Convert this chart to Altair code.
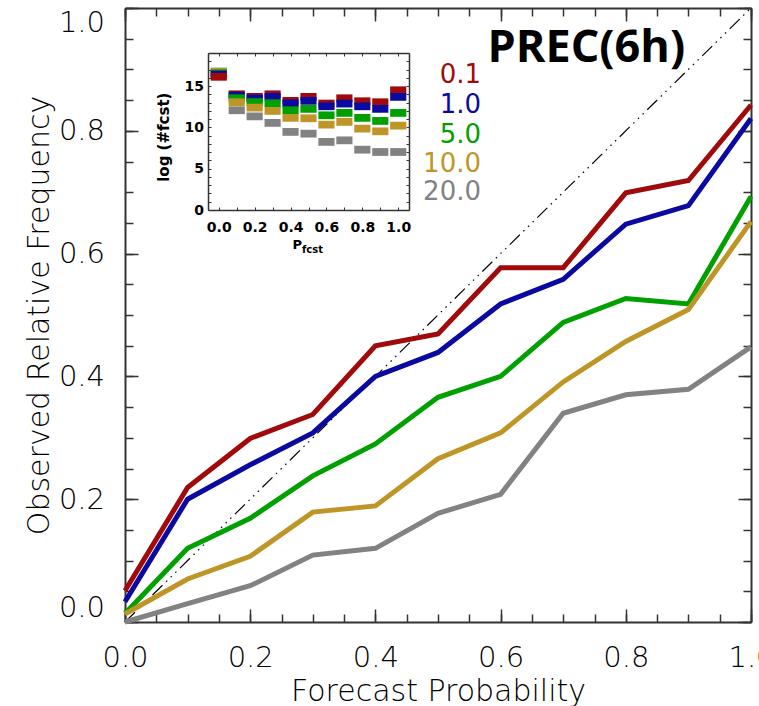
import altair as alt
import pandas as pd

# ---------------- data ----------------
probs = [0.0, 0.1, 0.2, 0.3, 0.4, 0.5, 0.6, 0.7, 0.8, 0.9, 1.0]
thresholds = ["0.1", "1.0", "5.0", "10.0", "20.0"]
colors = ["#A00A0A", "#0A0AA0", "#00A000", "#BE9628", "#828282"]

# observed relative frequency per threshold (reliability curves)
obs_01 = [0.051, 0.219, 0.299, 0.338, 0.450, 0.469, 0.577, 0.577, 0.699, 0.719, 0.842]
obs_1 = [0.033, 0.200, 0.256, 0.308, 0.400, 0.439, 0.518, 0.558, 0.648, 0.678, 0.820]
obs_5 = [0.014, 0.120, 0.169, 0.238, 0.290, 0.366, 0.400, 0.488, 0.527, 0.518, 0.693]
obs_10 = [0.013, 0.070, 0.107, 0.179, 0.189, 0.266, 0.308, 0.391, 0.457, 0.509, 0.652]
obs_20 = [0.000, 0.030, 0.059, 0.109, 0.120, 0.177, 0.208, 0.340, 0.370, 0.379, 0.448]

# inset: log(number of forecasts) per probability bin
logn_01 = [16.12, 14.00, 13.69, 14.00, 13.21, 13.69, 12.88, 13.52, 13.16, 13.04, 14.49]
logn_1 = [16.39, 13.85, 13.52, 13.69, 12.92, 13.21, 12.55, 12.88, 12.55, 12.24, 13.69]
logn_5 = [16.55, 13.52, 13.04, 12.92, 12.07, 12.24, 11.46, 11.75, 11.15, 10.78, 11.75]
logn_10 = [16.72, 13.04, 12.39, 11.99, 11.15, 11.10, 10.33, 10.66, 9.85, 9.52, 10.21]
logn_20 = [16.76, 12.07, 11.34, 10.54, 9.45, 9.24, 8.24, 8.43, 7.30, 7.02, 7.02]

main_title = "PREC(6h)"
x_title = "Forecast Probability"
y_title = "Observed Relative Frequency"
inset_x_title = "P"
inset_x_sub = "fcst"
inset_y_title = "log (#fcst)"

major_ticks = [0.0, 0.2, 0.4, 0.6, 0.8, 1.0]
minor_ticks = [round(i * 0.05, 2) for i in range(21)]
inset_x_ticks = [round(i * 0.1, 1) for i in range(11)]
inset_y_ticks = list(range(0, 20))

# ---------------- layout / style ----------------
W, H = 626, 614
PAD = {"left": 125, "top": 8, "right": 8, "bottom": 84}
IL, IR, IT, IB = 83, 284, 45, 202          # inset box inside the plot area (px)
FONT = "DejaVu Sans"
LIGHT = 200
INK = "#000000"
AX = "#333333"
BAR_HALF_W, BAR_HALF_H = 0.045, 0.47

obs = [obs_01, obs_1, obs_5, obs_10, obs_20]
logs = [logn_01, logn_1, logn_5, logn_10, logn_20]

lines_df = pd.DataFrame(
    [{"thr": t, "p": p, "v": v} for t, vals in zip(thresholds, obs) for p, v in zip(probs, vals)]
)
bars_df = pd.DataFrame(
    [{"thr": t, "p": p, "n": n} for t, vals in zip(thresholds, logs) for p, n in zip(probs, vals)]
).sort_values("n", ascending=False, kind="stable")
diag_df = pd.DataFrame({"p": [0.0, 1.0], "v": [0.0, 1.0]})

legend_y = [0.8779, 0.8298, 0.7809, 0.7329, 0.6865]
legend_df = pd.DataFrame({"thr": thresholds, "lx": [0.5687] * 5, "ly": legend_y})
title_df = pd.DataFrame({"txt": [main_title], "tx": [0.737], "ty": [0.912]})
sub_df = pd.DataFrame({"txt": [inset_x_sub], "sx": [0.522], "sy": [-5.25]})

MX = alt.Scale(domain=[0, 1], nice=False, zero=False)
MY = alt.Scale(domain=[0, 1], nice=False, zero=False)
IX = alt.Scale(domain=[-0.06, 1.06], range=[IL, IR], nice=False, zero=False)
IY = alt.Scale(domain=[0, 19], range=[IB, IT], nice=False, zero=False)
CS = alt.Scale(domain=thresholds, range=colors)


def tick_axis(orient, values, length, domain=False, width=1.5, dwidth=2, **extra):
    kw = dict(orient=orient, values=values, tickSize=alt.ExprRef(expr=str(-length)),
              tickColor=AX, tickWidth=width, labels=False, grid=False, domain=domain,
              title=None)
    if domain:
        kw.update(domainColor=AX, domainWidth=dwidth)
    kw.update(extra)
    return alt.Axis(**kw)


# main lines + labelled axes (bottom / left, major ticks)
x_lab = tick_axis("bottom", major_ticks, 13, domain=True, labels=True, format=".1f",
                  labelFont=FONT, labelFontSize=29, labelFontWeight=LIGHT, labelColor=INK,
                  labelPadding=34, labelFlush=False, labelOverlap=False, labelBound=False,
                  title=x_title, titleFont=FONT, titleFontSize=30, titleFontWeight=LIGHT,
                  titleColor=INK, titleX=313, titleY=78, titleBaseline="alphabetic",
                  titleAlign="center")
y_lab = tick_axis("left", major_ticks, 13, domain=True, labels=True, format=".1f",
                  labelFont=FONT, labelFontSize=29, labelFontWeight=LIGHT, labelColor=INK,
                  labelPadding=33.5, labelFlush=True, labelOverlap=False, labelBound=False,
                  title=y_title, titleFont=FONT, titleFontSize=30, titleFontWeight=LIGHT,
                  titleColor=INK, titleX=-77, titleY=307, titleAngle=270,
                  titleBaseline="alphabetic", titleAlign="center")

lines = alt.Chart(lines_df).mark_line(strokeWidth=5).encode(
    x=alt.X("p:Q", scale=MX, axis=x_lab),
    y=alt.Y("v:Q", scale=MY, axis=y_lab),
    color=alt.Color("thr:N", scale=CS, legend=None, sort=thresholds),
)

diag = alt.Chart(diag_df).mark_line(
    color="black", strokeWidth=1.2, strokeDash=[14, 5, 1.5, 5, 1.5, 5, 1.5, 5]
).encode(
    x=alt.X("p:Q", scale=MX, axis=tick_axis("bottom", minor_ticks, 8)),
    y=alt.Y("v:Q", scale=MY, axis=tick_axis("left", minor_ticks, 8)),
)

legend_txt = alt.Chart(legend_df).mark_text(
    font=FONT, fontSize=26, align="right", baseline="alphabetic"
).encode(
    x=alt.X("lx:Q", scale=MX, axis=tick_axis("top", major_ticks, 13, domain=True)),
    y=alt.Y("ly:Q", scale=MY, axis=tick_axis("right", major_ticks, 13, domain=True)),
    text="thr:N",
    color=alt.Color("thr:N", scale=CS, legend=None),
)

title_txt = alt.Chart(title_df).mark_text(
    font="Open Sans", fontSize=45, fontWeight="bold", align="center",
    baseline="alphabetic", color="black"
).encode(
    x=alt.X("tx:Q", scale=MX, axis=tick_axis("top", minor_ticks, 8)),
    y=alt.Y("ty:Q", scale=MY, axis=tick_axis("right", minor_ticks, 8)),
    text="txt:N",
)

# inset
ix_axis = tick_axis("bottom", inset_x_ticks, 3, domain=True, width=1, dwidth=1.5,
                    offset=IB - H, labels=True,
                    labelExpr="abs(datum.value*5 - round(datum.value*5)) < 0.001 ? format(datum.value, '.1f') : ''",
                    labelFont=FONT, labelFontSize=14, labelFontWeight="bold", labelColor=INK,
                    labelPadding=13.7, labelFlush=False, labelOverlap=False, labelBound=False,
                    title=inset_x_title, titleFont=FONT, titleFontSize=13, titleFontWeight="bold",
                    titleColor=INK, titleX=171.7, titleY=38.3, titleBaseline="alphabetic",
                    titleAlign="center")
iy_axis = tick_axis("left", inset_y_ticks, 3, domain=True, width=1, dwidth=1.5,
                    offset=-IL, labels=True,
                    labelExpr="datum.value % 5 == 0 ? datum.label : ''",
                    labelFont=FONT, labelFontSize=14, labelFontWeight="bold", labelColor=INK,
                    labelPadding=7.5, labelFlush=False, labelOverlap=False, labelBound=False,
                    title=inset_y_title, titleFont=FONT, titleFontSize=15, titleFontWeight="bold",
                    titleColor=INK, titleX=-40, titleY=128.7, titleAngle=270,
                    titleBaseline="alphabetic", titleAlign="center")

bars = alt.Chart(bars_df).transform_calculate(
    x1=f"datum.p - {BAR_HALF_W}", x2=f"datum.p + {BAR_HALF_W}",
    y1=f"datum.n - {BAR_HALF_H}", y2=f"datum.n + {BAR_HALF_H}",
).mark_rect().encode(
    x=alt.X("x1:Q", scale=IX, axis=ix_axis),
    x2="x2:Q",
    y=alt.Y("y1:Q", scale=IY, axis=iy_axis),
    y2="y2:Q",
    color=alt.Color("thr:N", scale=CS, legend=None),
)

sub_txt = alt.Chart(sub_df).mark_text(
    font=FONT, fontSize=10, fontWeight="bold", align="center", baseline="alphabetic", color=INK
).encode(
    x=alt.X("sx:Q", scale=IX, axis=tick_axis("top", inset_x_ticks, 3, domain=True, width=1,
                                              dwidth=1.5, offset=-IT)),
    y=alt.Y("sy:Q", scale=IY, axis=tick_axis("right", inset_y_ticks, 3, domain=True, width=1,
                                              dwidth=1.5, offset=IR - W)),
    text="txt:N",
)

chart = alt.layer(diag, lines, legend_txt, title_txt, bars, sub_txt).resolve_scale(
    x="independent", y="independent"
).properties(
    width=W, height=H, autosize=alt.AutoSizeParams(type="none"), padding=PAD,
    background="white",
).configure_view(strokeWidth=0)

chart.save("out.html", embed_options={"renderer": "svg", "actions": False})
